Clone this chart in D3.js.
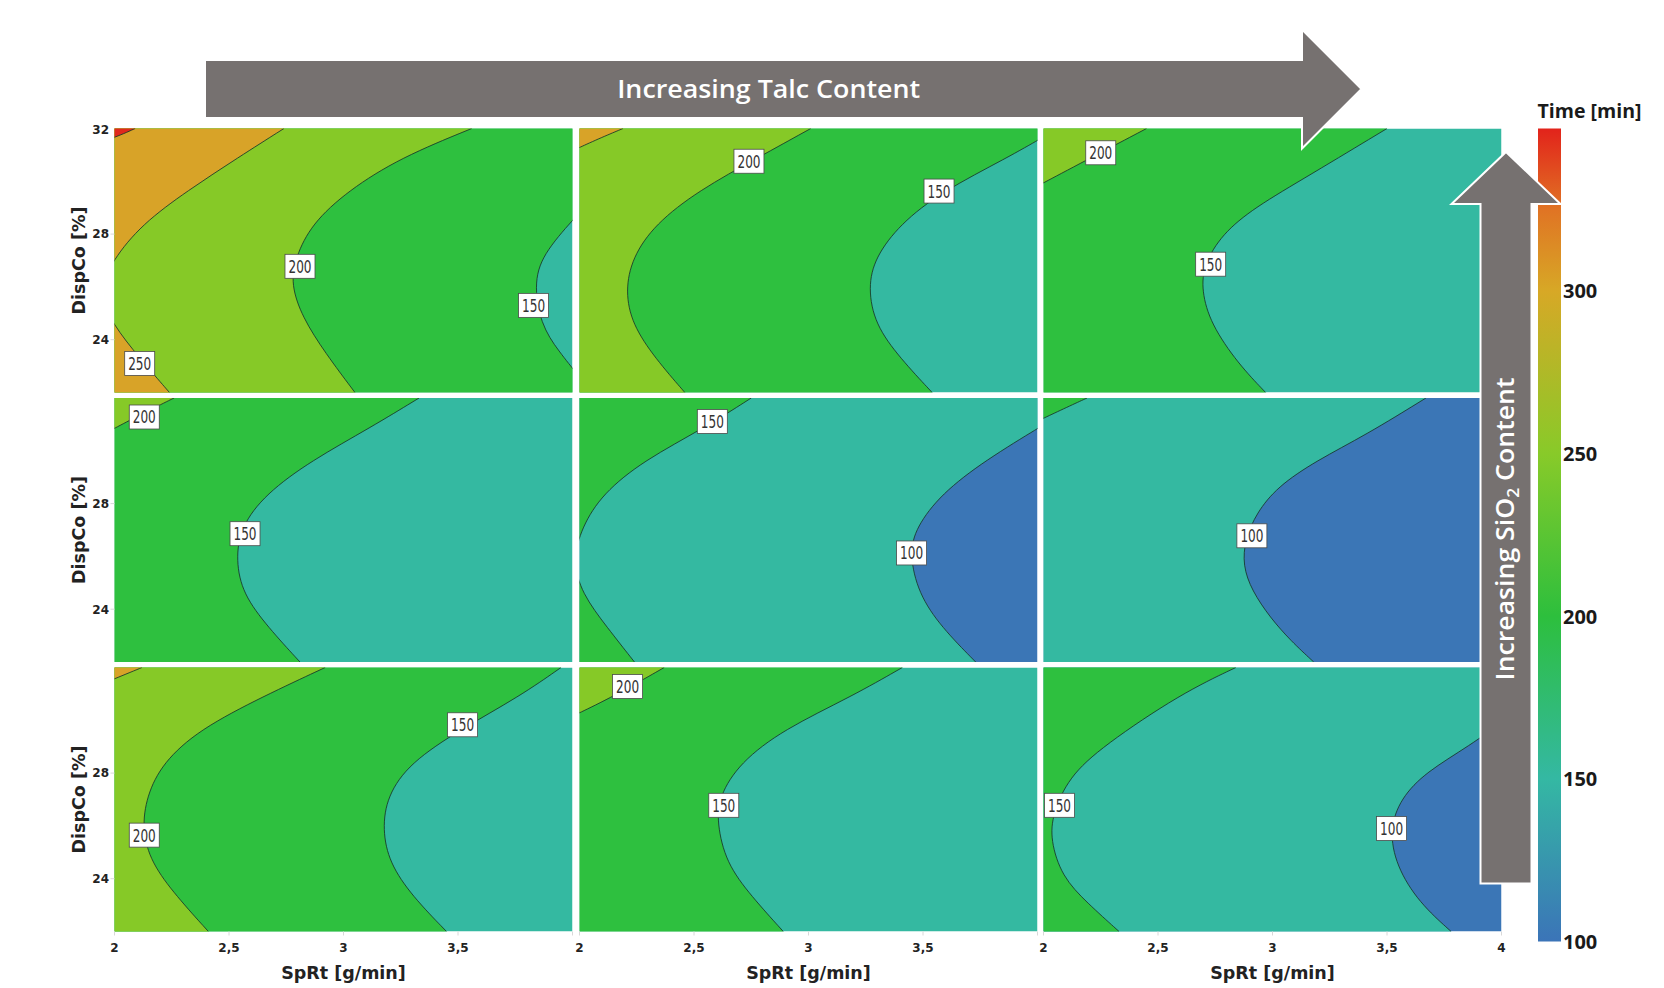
<!DOCTYPE html>
<html>
<head>
<meta charset="utf-8">
<script src="https://cdn.jsdelivr.net/npm/d3@7"></script>
<style>
  body { margin: 0; background: #fff; }
  svg { display: block; }
</style>
</head>
<body>
<svg id="chart" width="1664" height="988"></svg>
<script>
// ---- contour levels and band colours (band i lies below levels[i]) ----
const levels = [100, 150, 200, 250, 300];
const bandColors = ["#3b76b6", "#34b9a1", "#2ec03f", "#86c927", "#d8a328", "#e0291d"];

// ---- axis ticks ----
const sprtDomain = [2, 4];
const dispDomain = [22, 32];
const sprtTicks = [2, 2.5, 3, 3.5, 4];
const sprtTickLabels = ["2", "2,5", "3", "3,5", "4"];
const dispTicks = [24, 28, 32];

// ---- colour bar ----
const colorbarDomain = [100, 350];
const colorbarTicks = [100, 150, 200, 250, 300];
const colorbarStops = [[100, "#3b74b8"], [150, "#34b8a3"], [200, "#2dbf3d"], [250, "#88ca29"], [300, "#d7a826"], [325, "#e07424"], [350, "#e2231b"]];

// ---- iso-lines of drying time, points are [SpRt, DispCo] ----
// row 1 (highest SiO2)
const contoursR1C1 = [
  { level: 300, pts: [[2.09, 32], [2.04, 31.8], [1.98, 31.6]] },
  { level: 250, pts: [[2.74, 32], [2.54, 30.9], [2.32, 29.65], [2.12, 28.38], [1.99, 27.0], [1.93, 25.8], [1.99, 24.6], [2.11, 23.3], [2.24, 22]] },
  { level: 200, pts: [[3.56, 32], [3.25, 30.9], [3.02, 29.65], [2.86, 28.38], [2.79, 27.11], [2.77, 26.1], [2.82, 24.85], [2.92, 23.5], [3.05, 22]] },
  { level: 150, pts: [[4.03, 28.8], [3.88, 27.37], [3.83, 26.23], [3.86, 24.58], [3.94, 23.56], [4.03, 22.6]] }
];
const labelsR1C1 = [[250, 2.11, 23.1], [200, 2.81, 26.78], [150, 3.83, 25.3]];

const contoursR1C2 = [
  { level: 250, pts: [[2.19, 32], [2.08, 31.6], [1.98, 31.2]] },
  { level: 200, pts: [[3.01, 32], [2.78, 30.9], [2.52, 29.65], [2.33, 28.38], [2.23, 27.11], [2.20, 25.84], [2.23, 24.58], [2.33, 23.3], [2.46, 22]] },
  { level: 150, pts: [[4.03, 31.7], [3.87, 30.9], [3.58, 29.6], [3.40, 28.38], [3.29, 27.11], [3.26, 25.97], [3.29, 24.58], [3.40, 23.3], [3.54, 22]] }
];
const labelsR1C2 = [[200, 2.74, 30.76], [150, 3.57, 29.63]];

const contoursR1C3 = [
  { level: 200, pts: [[2.45, 32], [2.22, 30.95], [1.98, 29.85]] },
  { level: 150, pts: [[3.50, 32], [3.16, 30.22], [2.92, 29.0], [2.78, 28.0], [2.70, 26.85], [2.69, 25.86], [2.73, 24.6], [2.85, 23.09], [2.97, 22]] }
];
const labelsR1C3 = [[200, 2.25, 31.08], [150, 2.73, 26.86]];

// row 2
const contoursR2C1 = [
  { level: 200, pts: [[2.26, 32], [2.12, 31.4], [1.98, 30.76]] },
  { level: 150, pts: [[3.33, 32], [3.12, 30.89], [2.86, 29.63], [2.66, 28.37], [2.55, 27.11], [2.53, 25.85], [2.56, 24.58], [2.67, 23.32], [2.81, 22]] }
];
const labelsR2C1 = [[200, 2.13, 31.28], [150, 2.57, 26.86]];

const contoursR2C2 = [
  { level: 150, pts: [[2.75, 32], [2.55, 30.89], [2.28, 29.63], [2.10, 28.37], [2.01, 27.11], [1.97, 25.85], [2.01, 24.59], [2.12, 23.32], [2.24, 22]] },
  { level: 100, pts: [[4.03, 31.0], [3.77, 29.63], [3.58, 28.37], [3.47, 27.11], [3.44, 26.1], [3.48, 24.59], [3.58, 23.32], [3.73, 22]] }
];
const labelsR2C2 = [[150, 2.58, 31.11], [100, 3.45, 26.13]];

const contoursR2C3 = [
  { level: 150, pts: [[2.19, 32], [2.09, 31.6], [1.98, 31.15]] },
  { level: 100, pts: [[3.67, 32], [3.41, 30.61], [3.19, 29.62], [3.02, 28.63], [2.93, 27.64], [2.88, 26.65], [2.87, 25.66], [2.91, 24.7], [2.99, 23.68], [3.08, 22.8], [3.18, 22]] }
];
const labelsR2C3 = [[100, 2.91, 26.78]];

// row 3 (lowest SiO2)
const contoursR3C1 = [
  { level: 250, pts: [[2.12, 32], [2.05, 31.75], [1.98, 31.5]] },
  { level: 200, pts: [[2.92, 32], [2.65, 30.91], [2.37, 29.65], [2.21, 28.39], [2.14, 27.13], [2.12, 25.86], [2.16, 24.6], [2.27, 23.34], [2.41, 22]] },
  { level: 150, pts: [[3.95, 32], [3.77, 30.91], [3.51, 29.65], [3.29, 28.39], [3.19, 27.13], [3.17, 25.86], [3.20, 24.6], [3.30, 23.34], [3.45, 22]] }
];
const labelsR3C1 = [[200, 2.13, 25.65], [150, 3.52, 29.83]];

const contoursR3C2 = [
  { level: 200, pts: [[2.37, 32], [2.15, 30.91], [1.98, 30.2]] },
  { level: 150, pts: [[3.41, 32], [3.19, 30.91], [2.89, 29.65], [2.70, 28.39], [2.61, 27.13], [2.60, 26.12], [2.64, 24.6], [2.75, 23.34], [2.89, 22]] }
];
const labelsR3C2 = [[200, 2.21, 31.28], [150, 2.63, 26.78]];

const contoursR3C3 = [
  { level: 150, pts: [[2.84, 32], [2.60, 31.01], [2.26, 29.03], [2.11, 27.84], [2.04, 26.46], [2.03, 25.47], [2.08, 24.08], [2.19, 23.09], [2.33, 22]] },
  { level: 100, pts: [[4.03, 30.1], [3.86, 29.03], [3.67, 28.04], [3.56, 27.05], [3.51, 25.86], [3.54, 24.48], [3.64, 23.09], [3.78, 22]] }
];
const labelsR3C3 = [[150, 2.07, 26.78], [100, 3.52, 25.9]];

const panels = [
  { row: 0, col: 0, contours: contoursR1C1, labels: labelsR1C1 },
  { row: 0, col: 1, contours: contoursR1C2, labels: labelsR1C2 },
  { row: 0, col: 2, contours: contoursR1C3, labels: labelsR1C3 },
  { row: 1, col: 0, contours: contoursR2C1, labels: labelsR2C1 },
  { row: 1, col: 1, contours: contoursR2C2, labels: labelsR2C2 },
  { row: 1, col: 2, contours: contoursR2C3, labels: labelsR2C3 },
  { row: 2, col: 0, contours: contoursR3C1, labels: labelsR3C1 },
  { row: 2, col: 1, contours: contoursR3C2, labels: labelsR3C2 },
  { row: 2, col: 2, contours: contoursR3C3, labels: labelsR3C3 }
];

// ---- layout ----
const panelW = 458, panelH = 264;
const panelLeft = [114.5, 579.5, 1043.5];
const panelTop = [128.5, 398, 667.5];
const tickFont = "'DejaVu Sans', sans-serif";
const labelFont = "'Liberation Sans Narrow', 'DejaVu Sans Condensed', sans-serif";
const arrowFill = "#767170";

const svg = d3.select("#chart");
const defs = svg.append("defs");

const x = d3.scaleLinear().domain(sprtDomain).range([0, panelW]);
const y = d3.scaleLinear().domain(dispDomain).range([panelH, 0]);

defs.append("clipPath").attr("id", "panel-clip")
  .append("rect").attr("width", panelW).attr("height", panelH);

const line = d3.line()
  .curve(d3.curveBasis)
  .x(d => x(d[0]))
  .y(d => y(d[1]));

// region above a level: the side of the iso-line toward low SpRt
function regionPath(pts) {
  const first = pts[0], last = pts[pts.length - 1];
  return line(pts) +
    `L${x(last[0])},${y(21)}L${x(0)},${y(21)}L${x(0)},${y(33)}L${x(first[0])},${y(33)}Z`;
}

panels.forEach(p => {
  const g = svg.append("g")
    .attr("transform", `translate(${panelLeft[p.col]},${panelTop[p.row]})`);
  const plot = g.append("g").attr("clip-path", "url(#panel-clip)");

  const sorted = p.contours.slice().sort((a, b) => a.level - b.level);
  const baseBand = levels.indexOf(sorted[0].level);

  plot.append("rect")
    .attr("width", panelW).attr("height", panelH)
    .attr("fill", bandColors[baseBand]);

  sorted.forEach(c => {
    plot.append("path")
      .attr("d", regionPath(c.pts))
      .attr("fill", bandColors[levels.indexOf(c.level) + 1]);
  });

  sorted.forEach(c => {
    plot.append("path")
      .attr("d", line(c.pts))
      .attr("fill", "none")
      .attr("stroke", "#17362a")
      .attr("stroke-opacity", 0.85)
      .attr("stroke-width", 1);
  });

  // level labels on the iso-lines
  const lab = g.selectAll("g.lab").data(p.labels).join("g")
    .attr("class", "lab")
    .attr("transform", d => `translate(${x(d[1])},${y(d[2])})`);
  lab.append("rect")
    .attr("x", -15).attr("y", -12).attr("width", 30).attr("height", 24)
    .attr("fill", "#fff").attr("stroke", "#4a4a4a").attr("stroke-width", 0.8);
  lab.append("text")
    .attr("text-anchor", "middle").attr("dy", "0.36em")
    .attr("font-family", labelFont).attr("font-size", 18)
    .attr("textLength", 23).attr("lengthAdjust", "spacingAndGlyphs")
    .attr("fill", "#333")
    .text(d => d[0]);

  // faint tick marks and axis text
  if (p.row === 2) {
    g.selectAll("line.xt").data(sprtTicks).join("line")
      .attr("x1", d => x(d)).attr("x2", d => x(d))
      .attr("y1", panelH).attr("y2", panelH + 4)
      .attr("stroke", "#d8d8d8");
    const shown = p.col < 2 ? sprtTicks.slice(0, 4) : sprtTicks;
    g.selectAll("text.xl").data(shown).join("text")
      .attr("x", d => x(d)).attr("y", panelH + 20.5)
      .attr("text-anchor", "middle")
      .attr("font-family", tickFont).attr("font-weight", "bold").attr("font-size", 12)
      .attr("fill", "#222")
      .text(d => sprtTickLabels[sprtTicks.indexOf(d)]);
    g.append("text")
      .attr("x", panelW / 2).attr("y", panelH + 47.5)
      .attr("text-anchor", "middle")
      .attr("font-family", tickFont).attr("font-weight", "bold").attr("font-size", 17.5)
      .attr("fill", "#222")
      .text("SpRt [g/min]");
  }
  if (p.col === 0) {
    const shown = p.row === 0 ? dispTicks : dispTicks.slice(0, 2);
    g.selectAll("line.yt").data(dispTicks.slice(0, 2)).join("line")
      .attr("x1", -4).attr("x2", 0)
      .attr("y1", d => y(d)).attr("y2", d => y(d))
      .attr("stroke", "#d8d8d8");
    g.selectAll("text.yl").data(shown).join("text")
      .attr("x", -5.5).attr("y", d => Math.max(y(d), 1.5))
      .attr("dy", "0.36em")
      .attr("text-anchor", "end")
      .attr("font-family", tickFont).attr("font-weight", "bold").attr("font-size", 12)
      .attr("fill", "#222")
      .text(d => d);
    g.append("text")
      .attr("transform", `translate(-30,${panelH / 2}) rotate(-90)`)
      .attr("text-anchor", "middle")
      .attr("font-family", tickFont).attr("font-weight", "bold").attr("font-size", 17.5)
      .attr("fill", "#222")
      .text("DispCo [%]");
  }
});

// ---- colour bar ----
const cb = d3.scaleLinear().domain(colorbarDomain).range([941.5, 128.5]);
const grad = defs.append("linearGradient").attr("id", "cbgrad")
  .attr("x1", 0).attr("y1", 1).attr("x2", 0).attr("y2", 0);
grad.selectAll("stop").data(colorbarStops).join("stop")
  .attr("offset", d => (d[0] - colorbarDomain[0]) / (colorbarDomain[1] - colorbarDomain[0]))
  .attr("stop-color", d => d[1]);
svg.append("rect")
  .attr("x", 1538).attr("y", cb(350)).attr("width", 23).attr("height", cb(100) - cb(350))
  .attr("fill", "url(#cbgrad)");
svg.selectAll("text.cbl").data(colorbarTicks).join("text")
  .attr("x", 1563).attr("y", d => cb(d)).attr("dy", "0.36em")
  .attr("font-family", "'Open Sans', sans-serif").attr("font-weight", "bold").attr("font-size", 20)
  .attr("fill", "#1a1a1a")
  .text(d => d);
svg.append("text")
  .attr("x", 1537.5).attr("y", 118)
  .attr("font-family", "'Open Sans', sans-serif").attr("font-weight", "bold").attr("font-size", 19)
  .attr("textLength", 104).attr("lengthAdjust", "spacingAndGlyphs")
  .attr("fill", "#1a1a1a")
  .text("Time [min]");

// ---- direction arrows ----
const hx0 = 205, hx1 = 1302, htip = 1361.5, hcy = 89, hb = 29, hh = 59.5;
svg.append("path")
  .attr("d", `M${hx0},${hcy - hb}H${hx1}V${hcy - hh}L${htip},${hcy}L${hx1},${hcy + hh}V${hcy + hb}H${hx0}Z`)
  .attr("fill", arrowFill).attr("stroke", "#fff").attr("stroke-width", 2);
svg.append("text")
  .attr("x", 768.7).attr("y", 98.3)
  .attr("text-anchor", "middle")
  .attr("font-family", "'Open Sans', sans-serif").attr("font-weight", 600).attr("font-size", 26)
  .attr("textLength", 303).attr("lengthAdjust", "spacingAndGlyphs")
  .attr("fill", "#fff")
  .text("Increasing Talc Content");

const vcx = 1506, vb = 25.5, vh = 54.5, vy1 = 883.5, vs = 204, vtip = 152;
svg.append("path")
  .attr("d", `M${vcx - vb},${vy1}V${vs}H${vcx - vh}L${vcx},${vtip}L${vcx + vh},${vs}H${vcx + vb}V${vy1}Z`)
  .attr("fill", arrowFill).attr("stroke", "#fff").attr("stroke-width", 2);
const vt = svg.append("text")
  .attr("transform", `translate(1513.5,529) rotate(-90)`)
  .attr("text-anchor", "middle")
  .attr("font-family", "'Open Sans', sans-serif").attr("font-weight", 600).attr("font-size", 26)
  .attr("textLength", 303).attr("lengthAdjust", "spacingAndGlyphs")
  .attr("fill", "#fff");
vt.append("tspan").text("Increasing SiO");
vt.append("tspan").attr("font-size", 17).attr("dy", 5).text("2");
vt.append("tspan").attr("dy", -5).text(" Content");
</script>
</body>
</html>
